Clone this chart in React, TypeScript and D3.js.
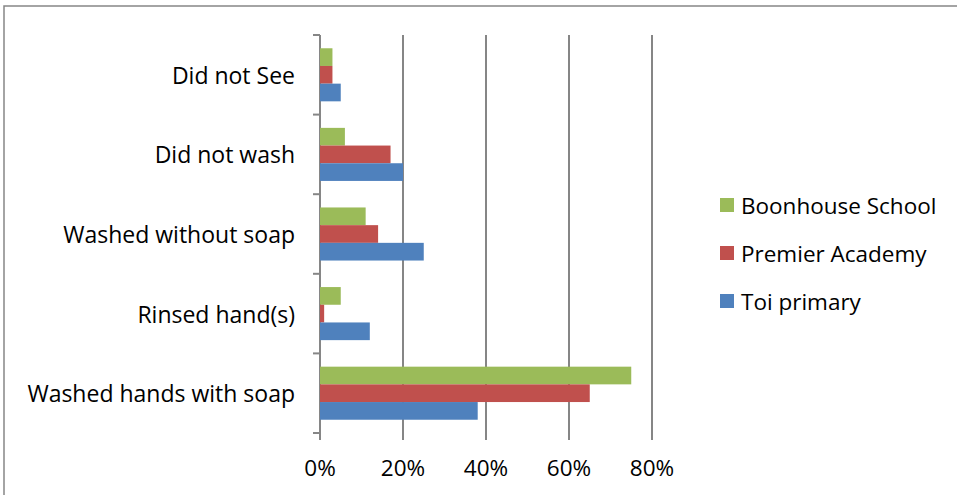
import React from "react";
import * as d3 from "d3";

const categories = ["Did not See", "Did not wash", "Washed without soap", "Rinsed hand(s)", "Washed hands with soap"];
const seriesNames = ["Boonhouse School", "Premier Academy", "Toi primary"];
const boonhouse = [3, 6, 11, 5, 75];
const premier = [3, 17, 14, 1, 65];
const toi = [5, 20, 25, 12, 38];
const xTicks = [0, 20, 40, 60, 80];
const colors = ["#9BBB59", "#C0504D", "#4F81BD"];

const W = 957, H = 495;
const FONT = "'Open Sans', sans-serif";

export default function App() {
  const seriesValues = [boonhouse, premier, toi];
  const x = d3.scaleLinear().domain([0, 80]).range([320, 652]);
  const y = d3.scaleBand<string>().domain(categories).range([35, 433]).paddingInner(0).paddingOuter(0);
  const band = y.bandwidth();
  const barH = band / (3 + 1.5);
  const gap = (band - 3 * barH) / 2;
  const legendY = d3.scalePoint<string>().domain(seriesNames).range([205, 301]);
  const grid = "#868686";

  return (
    <svg width={W} height={H} style={{ position: "absolute", left: 0, top: 0, background: "#fff" }} fontFamily={FONT}>
      <rect x={4} y={6} width={W + 10} height={H + 10} fill="#fff" stroke="#868686" strokeWidth={1.5} />
      {xTicks.map((t) => (
        <g key={t}>
          <line x1={x(t)} x2={x(t)} y1={35} y2={440} stroke={grid} strokeWidth={2} />
          <text x={x(t)} y={476} fontSize={22.5} textAnchor="middle" fill="#000">{t}%</text>
        </g>
      ))}
      {d3.range(categories.length + 1).map((i) => {
        const yy = 35 + i * band;
        return <line key={i} x1={313} x2={320} y1={yy} y2={yy} stroke={grid} strokeWidth={2} />;
      })}
      {categories.map((c, ci) => (
        <g key={c}>
          <text x={295} y={(y(c) as number) + band / 2} fontSize={23} textAnchor="end" dominantBaseline="central" fill="#000">{c}</text>
          {seriesValues.map((vals, si) => (
            <rect key={si} x={x(0)} y={(y(c) as number) + gap + si * barH} width={x(vals[ci]) - x(0)} height={barH} fill={colors[si]} />
          ))}
        </g>
      ))}
      {seriesNames.map((s, si) => (
        <g key={s}>
          <rect x={720} y={(legendY(s) as number) - 7} width={14} height={14} fill={colors[si]} />
          <text x={741} y={legendY(s) as number} fontSize={22.5} dominantBaseline="central" fill="#000">{s}</text>
        </g>
      ))}
    </svg>
  );
}
